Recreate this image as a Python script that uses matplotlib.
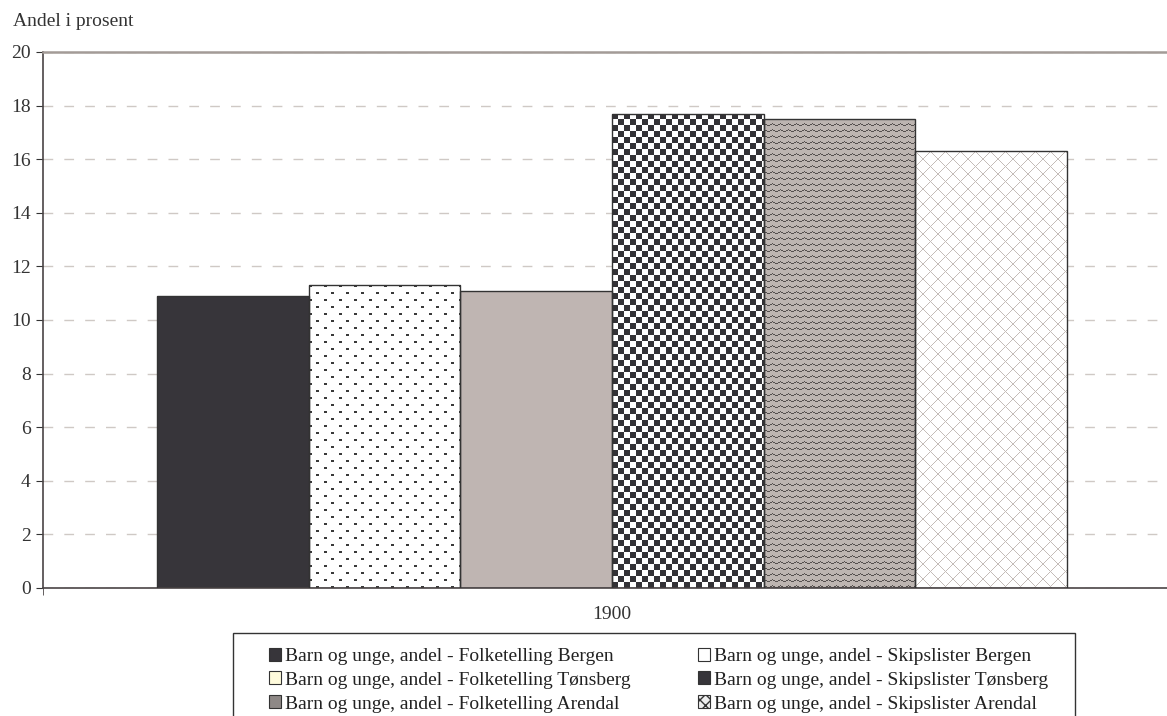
import numpy as np
import matplotlib
matplotlib.use('Agg')
import matplotlib.pyplot as plt
from matplotlib.colors import to_rgb
from matplotlib.patches import Patch, Rectangle

plt.rcParams['font.family'] = ['Liberation Serif', 'DejaVu Serif']

# Data
categories = ['1900']
series = [
    'Barn og unge, andel - Folketelling Bergen',
    'Barn og unge, andel - Skipslister Bergen',
    'Barn og unge, andel - Folketelling Tønsberg',
    'Barn og unge, andel - Skipslister Tønsberg',
    'Barn og unge, andel - Folketelling Arendal',
    'Barn og unge, andel - Skipslister Arendal',
]
values = [10.9, 11.3, 11.1, 17.7, 17.5, 16.3]
yticks = list(range(0, 21, 2))

# Styles
face = ['#37353a', 'white', '#bfb5b2', 'white', '#bdb5b1', 'white']
fill_kind = [None, 'dots', None, 'checker', 'zigzag', 'lattice']
legend_face = ['#37353a', 'white', '#fffbdc', '#37353a', '#8e8886', '#eeeeee']
legend_hatch = [None, None, None, None, None, 'xxx']

W, H = 1167, 716
fig = plt.figure(figsize=(W / 100, H / 100), dpi=100)
ax = fig.add_axes([43 / W, 1 - 588 / H, 1138 / W, 536 / H])

ax.set_xlim(-0.5, 0.5)
ax.set_ylim(0, 20)

w = 0.8 / len(series)
x0 = np.arange(len(categories))

bars = []
for i, (lab, v) in enumerate(zip(series, values)):
    b = ax.bar(x0 + (i - 2.5) * w, [v], width=w, color=face[i],
               edgecolor='none', linewidth=0, label=lab, zorder=2)
    bars.append(b[0])


def pattern(kind, hpx, wpx):
    yy, xx = np.mgrid[0:hpx, 0:wpx]
    if kind == 'checker':
        ink = ((xx // 6) + (yy // 6)) % 2 == 0
        bg, fg = 'white', '#333236'
    elif kind == 'zigzag':
        yoff = np.abs((xx % 8) - 4) // 2
        ink = (yy + yoff) % 6 == 0
        bg, fg = '#bdb5b1', '#55504f'
    elif kind == 'lattice':
        ink = ((xx + yy) % 15 == 0) | ((xx - yy) % 15 == 0)
        bg, fg = 'white', '#c4bcb8'
    else:
        off = ((yy // 7) % 2) * 7
        ink = (yy % 7 < 2) & ((xx - off) % 15 < 3)
        bg, fg = 'white', '#3a3a3a'
    img = np.empty((hpx, wpx, 3))
    img[:] = to_rgb(bg)
    img[ink] = to_rgb(fg)
    return img


for bar, kind in zip(bars, fill_kind):
    if kind is None:
        continue
    bx, bw, bh = bar.get_x(), bar.get_width(), bar.get_height()
    p0 = ax.transData.transform((bx, 0))
    p1 = ax.transData.transform((bx + bw, bh))
    wpx = int(round(p1[0] - p0[0]))
    hpx = int(round(p1[1] - p0[1]))
    im = ax.imshow(pattern(kind, hpx, wpx), extent=(bx, bx + bw, 0, bh),
                   aspect='auto', interpolation='nearest', zorder=2.5)
    im.set_clip_path(bar)

# outlines on top
ax.bar(x0 + (np.arange(len(series)) - 2.5) * w, values, width=w,
       fill=False, edgecolor='#333333', linewidth=1.0, zorder=3)

ax.set_xlim(-0.5, 0.5)
ax.set_ylim(0, 20)

# Axes styling
ax.set_axisbelow(True)
ax.yaxis.grid(True, color='#cfc9c5', linestyle=(0, (7, 8)), linewidth=1)
ax.set_yticks(yticks)
ax.tick_params(axis='y', labelsize=14, length=5, direction='out',
               colors='#333333', pad=4)
ax.set_xticks(x0)
ax.set_xticklabels(categories)
ax.tick_params(axis='x', labelsize=14, length=0, pad=13, colors='#333333')
ax.set_xticks([-0.5, 0.5], minor=True)
ax.tick_params(axis='x', which='minor', length=5, direction='out',
               color='#4a4446')
for s in ['left', 'bottom']:
    ax.spines[s].set_color('#4a4446')
    ax.spines[s].set_linewidth(1.2)
ax.spines['top'].set_color('#a39b97')
ax.spines['top'].set_linewidth(1.8)
ax.spines['right'].set_visible(False)

fig.text(13 / W, 1 - 22 / H, 'Andel i prosent', fontsize=14,
         color='#333333', va='center', ha='left')

# Legend
handles = [Patch(facecolor=legend_face[i], edgecolor='#333333',
                 hatch=legend_hatch[i], linewidth=0.8)
           for i in range(len(series))]
kw = dict(frameon=False, loc='upper left', fontsize=14, borderpad=0,
          handlelength=0.65, handleheight=0.65, handletextpad=0.2,
          labelspacing=0.33, labelcolor='#222222')
order1 = [0, 2, 4]
order2 = [1, 3, 5]
fig.legend([handles[i] for i in order1], [series[i] for i in order1],
           bbox_to_anchor=(259 / W, 1 - 638 / H), **kw)
fig.legend([handles[i] for i in order2], [series[i] for i in order2],
           bbox_to_anchor=(688 / W, 1 - 638 / H), **kw)
fig.add_artist(Rectangle((233 / W, -0.05), (1075 - 233) / W,
                         0.05 + 1 - 633 / H, transform=fig.transFigure,
                         fill=False, edgecolor='#333333', linewidth=1.0))

fig.savefig('out.png', dpi=100)
